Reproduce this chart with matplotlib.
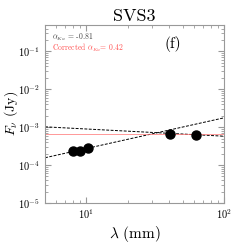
import matplotlib
matplotlib.use("Agg")
import matplotlib.pyplot as plt
import numpy as np

wavelength_mm = [8.0, 9.0, 10.2, 40.5, 63.0]
flux_jy = [2.4e-4, 2.33e-4, 2.9e-4, 6.8e-4, 6.4e-4]

# straight lines in log-log: (flux at 5 mm, slope in lambda)
fit_line = (1.56e-4, 0.81)
upper_line = (1.02e-3, -0.19)
corrected_line = (6.8e-4, 0.0)

alpha_ka = -0.81
alpha_corr = 0.42

plt.rcParams['mathtext.fontset'] = 'cm'
plt.rcParams['font.family'] = ['cmr10', 'DejaVu Serif']
plt.rcParams['axes.formatter.use_mathtext'] = True

fig = plt.figure(figsize=(2.49, 2.49), dpi=100)
ax = fig.add_axes([0.181, 0.185, 0.719, 0.715])

lam = np.array([5.0, 100.0])
for (f0, s), style, col, lw in [(fit_line, '--', 'black', 0.7),
                                (upper_line, '--', 'black', 0.7),
                                (corrected_line, '-', '#ff7070', 0.5)]:
    ax.plot(lam, f0 * (lam / 5.0) ** s, linestyle=style, color=col, lw=lw,
            dashes=(3, 1.5) if style == '--' else (None, None))

ax.plot(wavelength_mm, flux_jy, 'o', color='black', ms=6.5, zorder=5)

ax.set_xscale('log')
ax.set_yscale('log')
ax.set_xlim(5, 100)
ax.set_ylim(1e-5, 0.5)

for sp in ax.spines.values():
    sp.set_color('#999999')
ax.tick_params(which='both', direction='in', top=True, right=True, color='#999999', labelsize=7.5)
ax.tick_params(which='major', length=4)
ax.tick_params(which='minor', length=2)

ax.set_title('SVS3', fontsize=13, pad=3)
ax.set_xlabel(r'$\lambda$ (mm)', fontsize=11, labelpad=2)
ax.set_ylabel(r'$F_\nu$ (Jy)', fontsize=10)
ax.yaxis.set_label_coords(-0.14, 0.5)

ax.text(0.04, 0.93, r'$\alpha_{Ka}$ = %.2f' % alpha_ka, transform=ax.transAxes,
        fontsize=5.5, color='#444444', va='center')
ax.text(0.04, 0.87, r'Corrected $\alpha_{Ka}$= %.2f' % alpha_corr, transform=ax.transAxes,
        fontsize=5.5, color='#ff5050', va='center')
ax.text(0.715, 0.89, '(f)', transform=ax.transAxes, fontsize=11, ha='center', va='center')

fig.savefig('out.png', dpi=100)
